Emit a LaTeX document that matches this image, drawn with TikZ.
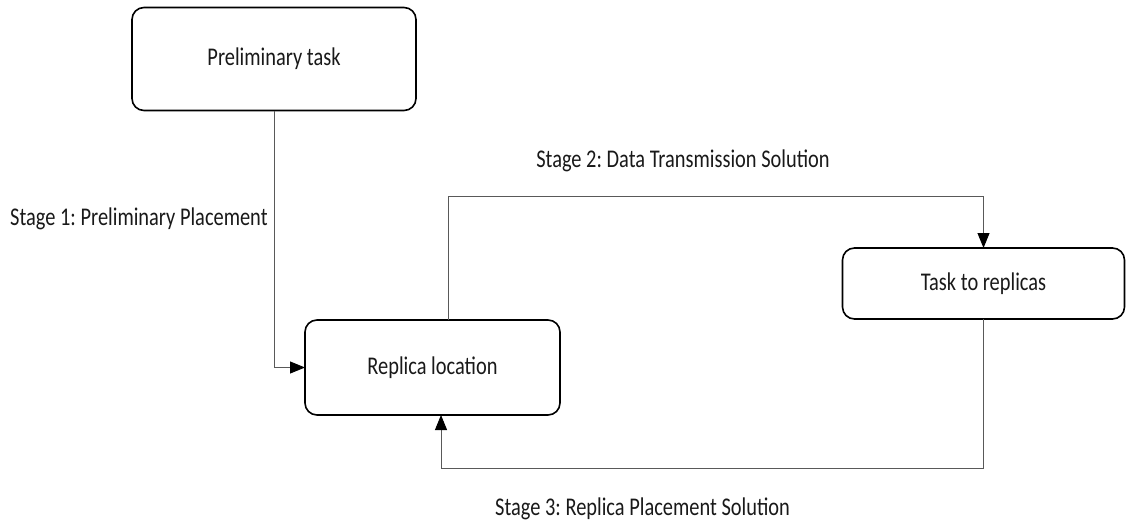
\documentclass[tikz,border=0pt]{standalone}
\usepackage{fontspec}
\setmainfont{Carlito}[FakeStretch=0.8]
\usetikzlibrary{arrows.meta}
\begin{document}
\begin{tikzpicture}[x=1pt,y=-1pt,
  every node/.style={font=\fontsize{25.5}{29}\selectfont, text=black!90},
  stagebox/.style={draw=black, line width=1.6pt, rounded corners=12pt,
    inner sep=0pt, outer sep=0pt, align=center},
  conn/.style={draw=black!65, line width=0.9pt,
    -{Triangle[length=15pt,width=12pt,color=black,fill=black]}},
  stagelabel/.style={anchor=base, inner sep=0pt}]
  \useasboundingbox (0,0) rectangle (1126,522);

  % process steps
  \node[stagebox, minimum width=284pt, minimum height=103pt] (prelim) at (274,59) {Preliminary task};
  \node[stagebox, minimum width=255pt, minimum height=95pt] (replica) at (432.5,367.5) {Replica location};
  \node[stagebox, minimum width=282pt, minimum height=71pt] (task) at (983.5,283.5) {Task to replicas};

  % stage transitions
  \draw[conn] (prelim.south) |- (replica.west);
  \draw[conn] ([xshift=15.5pt]replica.north) |- (983.5,196) -- (task.north);
  \draw[conn] (task.south) |- (441,468) -- ([xshift=8.5pt]replica.south);

  % stage labels
  \node[stagelabel, anchor=base west] (s1) at (10,225) {Stage 1:\hspace{-1.5pt} Preliminary Placement};
  \node[stagelabel] (s2) at (683,167) {Stage 2:\hspace{-1.5pt} Data Transmission Solution};
  \node[stagelabel] (s3) at (642.5,515) {Stage 3:\hspace{-1.5pt} Replica Placement Solution};
\end{tikzpicture}
\end{document}
